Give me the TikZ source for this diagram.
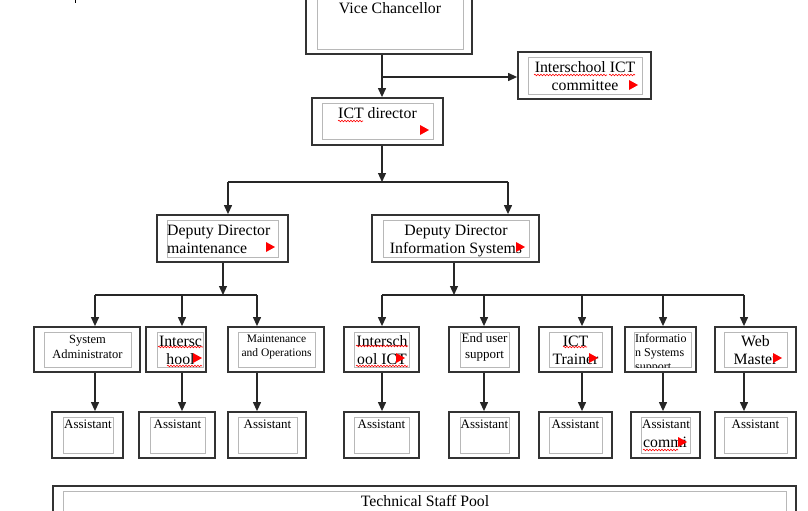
\documentclass[tikz,border=0pt]{standalone}
\usepackage{fontspec}
\setmainfont{Liberation Serif}
\usetikzlibrary{arrows.meta,fit,decorations.pathmorphing}

\tikzset{
  obox/.style={draw=black!80, line width=1.8pt, inner sep=0pt, minimum size=0pt},
  ibox/.style={draw=black!28, line width=0.9pt, inner sep=0pt, minimum size=0pt},
  lnk/.style={draw=black!85, line width=1.2pt},
  arr/.style={lnk, -{Triangle[length=9pt,width=8pt]}},
  txt/.style={inner sep=0pt, align=center, font=\fontsize{15.8}{17.5}\selectfont},
  smtxt/.style 2 args={txt, font=\fontsize{#1}{#2}\selectfont},
  squig/.style={draw=red, line width=0.6pt, decorate,
    decoration={snake, amplitude=0.8pt, segment length=3pt}},
  redmark/.pic={\fill[red] (-4,-5) -- (5,0) -- (-4,5) -- cycle;}
}

\newcommand{\orgbox}[3]{%
  \node[obox, fit={#2}] (#1) {};
  \node[ibox, fit={#3}] (#1-in) {};}

\begin{document}
\begin{tikzpicture}[x=1pt, y=-1pt]
  \useasboundingbox (0,0) rectangle (808,511);
  \clip (0,0) rectangle (808,511);
  \draw (75,0) -- (75,3);

  \orgbox{vc}{(306,-10) (472,54)}{(317,-5) (463,49)}
  \orgbox{iscom}{(518,52) (651,99)}{(528,57) (642,94)}
  \orgbox{ictdir}{(312,98) (443,145)}{(322,103) (433,139)}
  \orgbox{ddm}{(157,215) (288,262)}{(167,220) (278,257)}
  \orgbox{ddis}{(372,215) (539,262)}{(383,220) (529,257)}
  \orgbox{sa}{(34,327) (140,372)}{(44,332) (131,367)}
  \orgbox{isa}{(146,327) (206,372)}{(157,332) (203,367)}
  \orgbox{mo}{(228,327) (324,372)}{(238,332) (315,367)}
  \orgbox{isb}{(344,327) (419,372)}{(354,332) (409,367)}
  \orgbox{eus}{(449,327) (519,372)}{(460,332) (509,367)}
  \orgbox{trn}{(539,327) (612,372)}{(549,332) (602,367)}
  \orgbox{inf}{(625,327) (696,372)}{(634,332) (691,367)}
  \orgbox{web}{(715,327) (796,372)}{(724,332) (787,367)}
  \orgbox{as1}{(52,412) (123,458)}{(63,417) (113,453)}
  \orgbox{as2}{(139,412) (215,458)}{(150,417) (205,453)}
  \orgbox{as3}{(228,412) (306,458)}{(238,417) (297,453)}
  \orgbox{as4}{(344,412) (419,458)}{(354,417) (409,453)}
  \orgbox{as5}{(449,412) (519,458)}{(460,417) (509,453)}
  \orgbox{as6}{(539,412) (612,458)}{(549,417) (602,453)}
  \orgbox{as7}{(631,412) (700,458)}{(641,417) (690,453)}
  \orgbox{as8}{(715,412) (796,458)}{(724,417) (787,453)}
  \orgbox{tsp}{(53,486) (796,530)}{(63,491) (786,525)}

  \coordinate (j0) at (382,77);
  \coordinate (j1) at (382,182);
  \coordinate (j1l) at (228,182);
  \coordinate (j1r) at (508,182);
  \coordinate (j2) at (223,295);
  \coordinate (j3) at (454,295);
  \draw[lnk] (vc.south -| j0) -- (j0);
  \draw[arr] (j0) -- (ictdir.north -| j0);
  \draw[arr] (j0) -- (j0 -| iscom.west);
  \draw[arr] (ictdir.south -| j1) -- (j1);
  \draw[lnk] (j1l) -- (j1r);
  \draw[arr] (j1l) -- (ddm.north -| j1l);
  \draw[arr] (j1r) -- (ddis.north -| j1r);
  \draw[arr] (ddm.south -| j2) -- (j2);
  \draw[arr] (ddis.south -| j3) -- (j3);
  \foreach \u/\a/\x in {sa/as1/95, isa/as2/182, mo/as3/257, isb/as4/382,
      eus/as5/484, trn/as6/582, inf/as7/663, web/as8/744} {
    \coordinate (c-\u) at (\x,295);
    \draw[arr] (c-\u) -- (c-\u |- \u.north);
    \draw[arr] (\u.south -| c-\u) -- (c-\u |- \a.north);
  }
  \draw[lnk] (c-sa) -- (c-mo);
  \draw[lnk] (c-isb) -- (c-web);

  \node[txt, anchor=base] (t-vc) at (390,14) {Vice Chancellor};
  \node[txt, anchor=base] (t-iscom) at (585,90) {Interschool ICT\\committee};
  \node[txt, anchor=base] (t-ictdir) at (377.5,118) {ICT director};
  \node[txt, anchor=base west, align=left] (t-ddm) at (167,253) {Deputy Director\\maintenance};
  \node[txt, anchor=base] (t-ddis) at (456,253) {Deputy Director\\Information Systems};
  \node[smtxt={12.5}{15}, anchor=base] (t-sa) at (87.5,358) {System\\Administrator};
  \node[txt, anchor=base] (t-isa) at (180.5,364) {Intersc\\hool};
  \node[smtxt={11.5}{14}, anchor=base] (t-mo) at (276.5,356) {Maintenance\\and Operations};
  \node[txt, anchor=base] (t-isb) at (382,364) {Intersch\\ool ICT};
  \node[smtxt={13}{15.5}, anchor=base] (t-eus) at (484.5,358) {End user\\support};
  \node[txt, anchor=base] (t-trn) at (575.5,364) {ICT\\Trainer};
  \begin{scope}
    \clip (inf-in.north west) rectangle (inf-in.south east);
    \node[smtxt={12}{14}, anchor=base west, align=left] (t-inf) at (635,370) {Informatio\\n Systems\\support};
  \end{scope}
  \node[txt, anchor=base] (t-web) at (755.5,364) {Web\\Master};
  \foreach \a/\x in {as1/88, as2/177.5, as3/267.5, as4/381.5, as5/484.5, as6/575.5, as8/755.5}
    \node[smtxt={13}{15.5}, anchor=base] (t-\a) at (\x,428) {Assistant};
  \node[smtxt={13}{15.5}, anchor=base west] (t-as7) at (642,428) {Assistant};
  \node[txt, anchor=base west] (t-as7b) at (643,447) {commi};
  \node[txt, anchor=base] (t-tsp) at (425,506) {Technical Staff Pool};

  \draw[squig] (534,75) -- (607,75);
  \draw[squig] (609,75) -- (635,75);
  \draw[squig] (338,121) -- (363,121);
  \draw[squig] (158,347) -- (203,347);
  \draw[squig] (167,366) -- (202,366);
  \draw[squig] (356,346) -- (408,346);
  \draw[squig] (356,366) -- (408,366);
  \draw[squig] (563,347) -- (587,347);
  \draw[squig] (643,450) -- (678,450);

  \foreach \p in {(633,85), (424,130), (270,247), (520,247), (197,358),
      (400,358), (593,358), (777,358), (682,442)}
    \pic at \p {redmark};
\end{tikzpicture}
\end{document}
